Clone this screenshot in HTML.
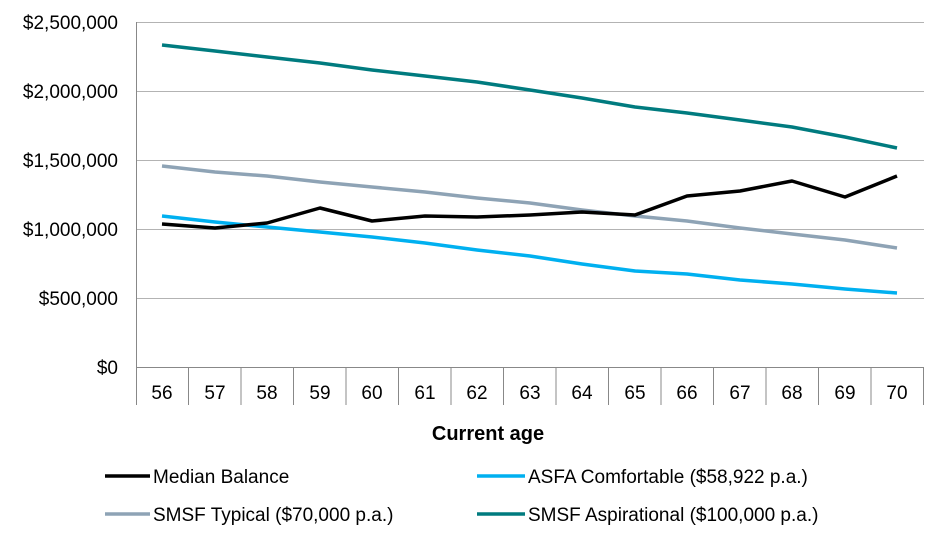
<!DOCTYPE html>
<html><head><meta charset="utf-8"><style>
body{margin:0;background:#fff;}
text{font-family:"Liberation Sans",Arial,sans-serif;fill:#000;}
</style></head><body>
<svg width="940" height="540" viewBox="0 0 940 540" xmlns="http://www.w3.org/2000/svg">
<g stroke="#b3b3b3" stroke-width="1">
<line x1="136" y1="22.5" x2="924" y2="22.5"/>
<line x1="136" y1="91.5" x2="924" y2="91.5"/>
<line x1="136" y1="160.5" x2="924" y2="160.5"/>
<line x1="136" y1="229.5" x2="924" y2="229.5"/>
<line x1="136" y1="298.5" x2="924" y2="298.5"/>
</g>
<g stroke="#888" stroke-width="1">
<line x1="136.5" y1="22" x2="136.5" y2="405"/>
<line x1="136" y1="367.5" x2="924" y2="367.5"/>
<line x1="188.5" y1="367" x2="188.5" y2="405"/><line x1="241" y1="367" x2="241" y2="405"/>
<line x1="293.5" y1="367" x2="293.5" y2="405"/><line x1="346" y1="367" x2="346" y2="405"/>
<line x1="398.5" y1="367" x2="398.5" y2="405"/><line x1="451" y1="367" x2="451" y2="405"/>
<line x1="503.5" y1="367" x2="503.5" y2="405"/><line x1="556" y1="367" x2="556" y2="405"/>
<line x1="608.5" y1="367" x2="608.5" y2="405"/><line x1="661" y1="367" x2="661" y2="405"/>
<line x1="713.5" y1="367" x2="713.5" y2="405"/><line x1="766" y1="367" x2="766" y2="405"/>
<line x1="818.5" y1="367" x2="818.5" y2="405"/><line x1="871" y1="367" x2="871" y2="405"/>
<line x1="923.5" y1="367" x2="923.5" y2="405"/>
</g>
<g font-size="19" text-anchor="end">
<text x="118" y="29">$2,500,000</text>
<text x="118" y="98">$2,000,000</text>
<text x="118" y="167">$1,500,000</text>
<text x="118" y="236">$1,000,000</text>
<text x="118" y="305">$500,000</text>
<text x="118" y="374">$0</text>
</g>
<g font-size="19" text-anchor="middle">
<text x="162" y="399">56</text><text x="215" y="399">57</text><text x="267" y="399">58</text>
<text x="320" y="399">59</text><text x="372" y="399">60</text><text x="425" y="399">61</text>
<text x="477" y="399">62</text><text x="530" y="399">63</text><text x="582" y="399">64</text>
<text x="635" y="399">65</text><text x="687" y="399">66</text><text x="740" y="399">67</text>
<text x="792" y="399">68</text><text x="845" y="399">69</text><text x="897" y="399">70</text>
<text x="488" y="440" font-weight="bold" font-size="20">Current age</text>
</g>
<g fill="none" stroke-width="3.5" stroke-linejoin="round">
<polyline stroke="#007b7f" points="162,45 215,51 267,57 320,63 372,70 425,76 477,82 530,90 582,98 635,107 687,113 740,120 792,127 845,137 897,148"/>
<polyline stroke="#8ea3b5" points="162,166 215,172 267,176 320,182 372,187 425,192 477,198 530,203 582,210 635,216 687,221 740,228 792,234 845,240 897,248"/>
<polyline stroke="#00b0f0" points="162,216 215,222 267,227 320,232 372,237 425,243 477,250 530,256 582,264 635,271 687,274 740,280 792,284 845,289 897,293"/>
<polyline stroke="#000" points="162,224 215,228 267,223 320,208 372,221 425,216 477,217 530,215 582,212 635,215 687,196 740,191 792,181 845,197 897,176"/>
</g>
<g stroke-width="3.5">
<line x1="105" y1="476" x2="150" y2="476" stroke="#000"/>
<line x1="477" y1="476" x2="525" y2="476" stroke="#00b0f0"/>
<line x1="105" y1="514" x2="150" y2="514" stroke="#8ea3b5"/>
<line x1="477" y1="514" x2="525" y2="514" stroke="#007b7f"/>
</g>
<g font-size="19">
<text x="153" y="483">Median Balance</text>
<text x="528" y="483">ASFA Comfortable ($58,922 p.a.)</text>
<text x="153" y="521">SMSF Typical ($70,000 p.a.)</text>
<text x="528" y="521">SMSF Aspirational ($100,000 p.a.)</text>
</g>
</svg>
</body></html>
